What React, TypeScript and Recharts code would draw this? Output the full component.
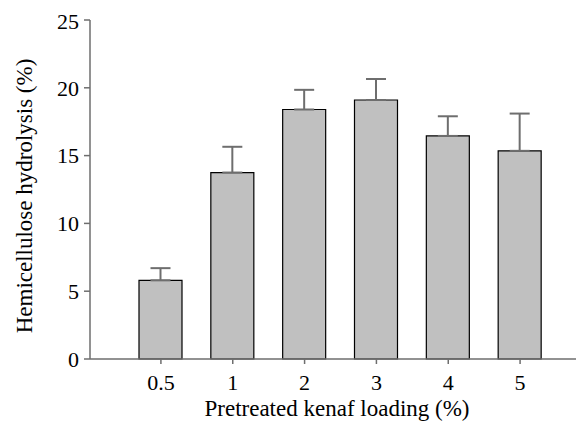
import {
  Bar,
  BarChart,
  ErrorBar,
  XAxis,
  YAxis,
} from "recharts";

const loadings = ["0.5", "1", "2", "3", "4", "5"];
const hydrolysis = [5.8, 13.75, 18.4, 19.1, 16.45, 15.35];
const errors = [0.9, 1.9, 1.45, 1.55, 1.45, 2.75];
const yTicks = [0, 5, 10, 15, 20, 25];

const data = loadings.map((loading, i) => ({
  loading,
  value: hydrolysis[i],
  err: [0, errors[i]],
}));

const font = "'Liberation Serif', 'Times New Roman', serif";
const axisColor = "#6e6e6e";

// page has an 8px body margin, so the svg starts at (8, 8)
function YLabel() {
  return (
    <text
      x={16}
      y={188}
      dominantBaseline="central"
      fill="#000"
      fontFamily={font}
      fontSize={23}
      textAnchor="middle"
      transform="rotate(-90 16 188)"
    >
      Hemicellulose hydrolysis (%)
    </text>
  );
}

export default function App() {
  return (
    <BarChart
      data={data}
      height={413}
      margin={{ top: 12, right: 0, bottom: 0, left: 0 }}
      style={{ background: "#fff" }}
      width={576}
    >
      <XAxis
        axisLine={{ stroke: axisColor, strokeWidth: 1.5 }}
        dataKey="loading"
        height={62}
        label={{
          value: "Pretreated kenaf loading (%)",
          position: "insideBottom",
          offset: 5,
          fill: "#000",
          fontFamily: font,
          fontSize: 23,
        }}
        padding={{ left: 35, right: 28 }}
        tick={{ fill: "#000", fontFamily: font, fontSize: 22 }}
        tickLine={{ stroke: axisColor, strokeWidth: 1.5 }}
        tickMargin={10}
        tickSize={5}
      />
      <YAxis
        axisLine={{ stroke: axisColor, strokeWidth: 1.5 }}
        domain={[0, 25]}
        label={<YLabel />}
        tick={{ fill: "#000", fontFamily: font, fontSize: 22 }}
        tickLine={{ stroke: axisColor, strokeWidth: 1.5 }}
        tickMargin={5}
        tickSize={6}
        ticks={yTicks}
        width={82}
      />
      <Bar
        barSize={43}
        dataKey="value"
        fill="#c0c0c0"
        isAnimationActive={false}
        stroke="#000"
        strokeWidth={1.2}
      >
        <ErrorBar
          dataKey="err"
          stroke="#6e6e6e"
          strokeWidth={2}
          width={10}
        />
      </Bar>
    </BarChart>
  );
}
